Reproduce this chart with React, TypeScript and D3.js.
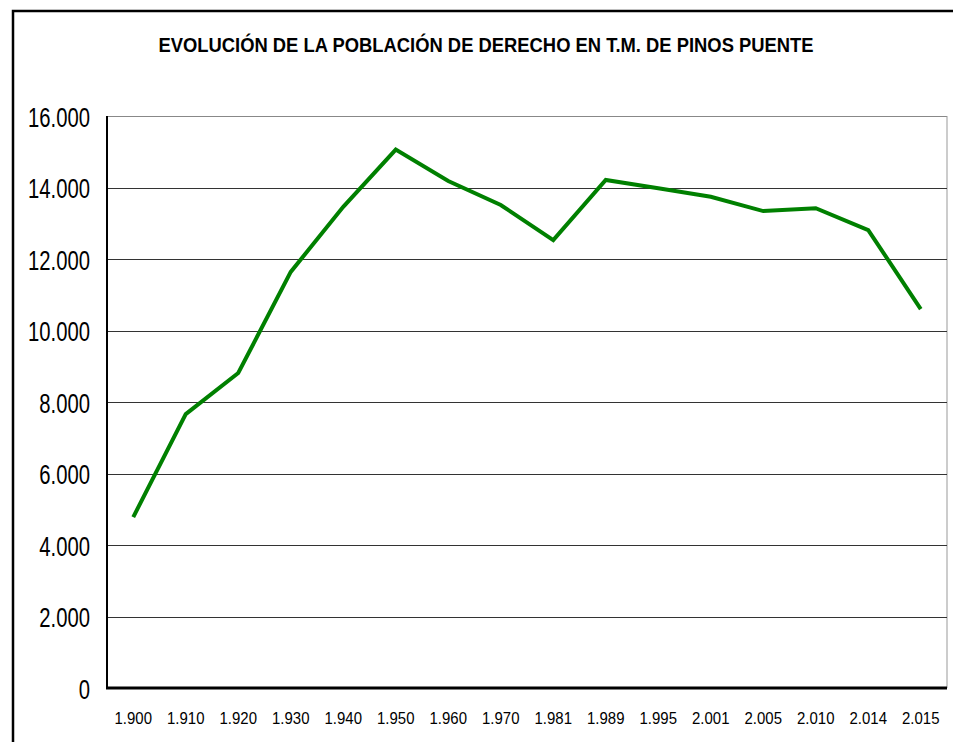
import React from "react";
import * as d3 from "d3";

const years = ["1.900","1.910","1.920","1.930","1.940","1.950","1.960","1.970","1.981","1.989","1.995","2.001","2.005","2.010","2.014","2.015"];
const population = [4780, 7660, 8810, 11640, 13460, 15060, 14180, 13510, 12530, 14210, 13980, 13740, 13340, 13420, 12810, 10600];
const yTicks = [0, 2000, 4000, 6000, 8000, 10000, 12000, 14000, 16000];
const title = "EVOLUCIÓN DE LA POBLACIÓN DE DERECHO EN T.M. DE PINOS PUENTE";

const W = 953, H = 742;
const plot = { left: 107, right: 947, top: 116, bottom: 688 };
const font = "'Liberation Sans', Arial, sans-serif";

function fmt(v: number) {
  if (v === 0) return "0";
  const s = String(v);
  return s.slice(0, s.length - 3) + "." + s.slice(s.length - 3);
}

export default function App() {
  const x = d3.scaleBand<string>().domain(years).range([plot.left, plot.right]);
  const y = d3.scaleLinear().domain([0, 16000]).range([plot.bottom, plot.top]);
  const line = d3.line<number>()
    .x((_, i) => (x(years[i]) as number) + x.bandwidth() / 2)
    .y((d) => y(d));

  return (
    <svg width={W} height={H} style={{ position: "absolute", left: 0, top: 0, background: "#fff" }}>
      <rect x={0} y={0} width={W} height={H} fill="#fff" />
      <rect x={13} y={11} width={W + 20} height={H + 20} fill="none" stroke="#000" strokeWidth={2.5} />
      <text transform="translate(486,52) scale(0.92,1)" textAnchor="middle" fontFamily={font} fontWeight="bold" fontSize={20} fill="#000">
        {title}
      </text>
      {/* plot border */}
      <line x1={plot.left} x2={plot.right} y1={plot.top + 0.5} y2={plot.top + 0.5} stroke="#888" strokeWidth={1} />
      <line x1={plot.right} x2={plot.right} y1={plot.top} y2={plot.bottom} stroke="#999" strokeWidth={1} />
      {yTicks.filter((t) => t > 0 && t < 16000).map((t) => (
        <line key={t} x1={plot.left} x2={plot.right} y1={Math.round(y(t)) + 0.5} y2={Math.round(y(t)) + 0.5} stroke="#333" strokeWidth={1} />
      ))}
      {yTicks.map((t) => (
        <text key={"l" + t} transform={`translate(90,${y(t) + 10.5}) scale(0.75,1)`} textAnchor="end" fontFamily={font} fontSize={27} fill="#000">
          {fmt(t)}
        </text>
      ))}
      {years.map((yr) => (
        <text key={yr} transform={`translate(${(x(yr) as number) + x.bandwidth() / 2},724) scale(0.88,1)`} textAnchor="middle" fontFamily={font} fontSize={17} fill="#000">
          {yr}
        </text>
      ))}
      <line x1={plot.left} x2={plot.left} y1={plot.top} y2={plot.bottom} stroke="#000" strokeWidth={2} />
      <line x1={plot.left - 1} x2={plot.right} y1={plot.bottom} y2={plot.bottom} stroke="#000" strokeWidth={3} />
      <path d={line(population) || ""} fill="none" stroke="#008000" strokeWidth={4} strokeLinejoin="miter" />
    </svg>
  );
}
